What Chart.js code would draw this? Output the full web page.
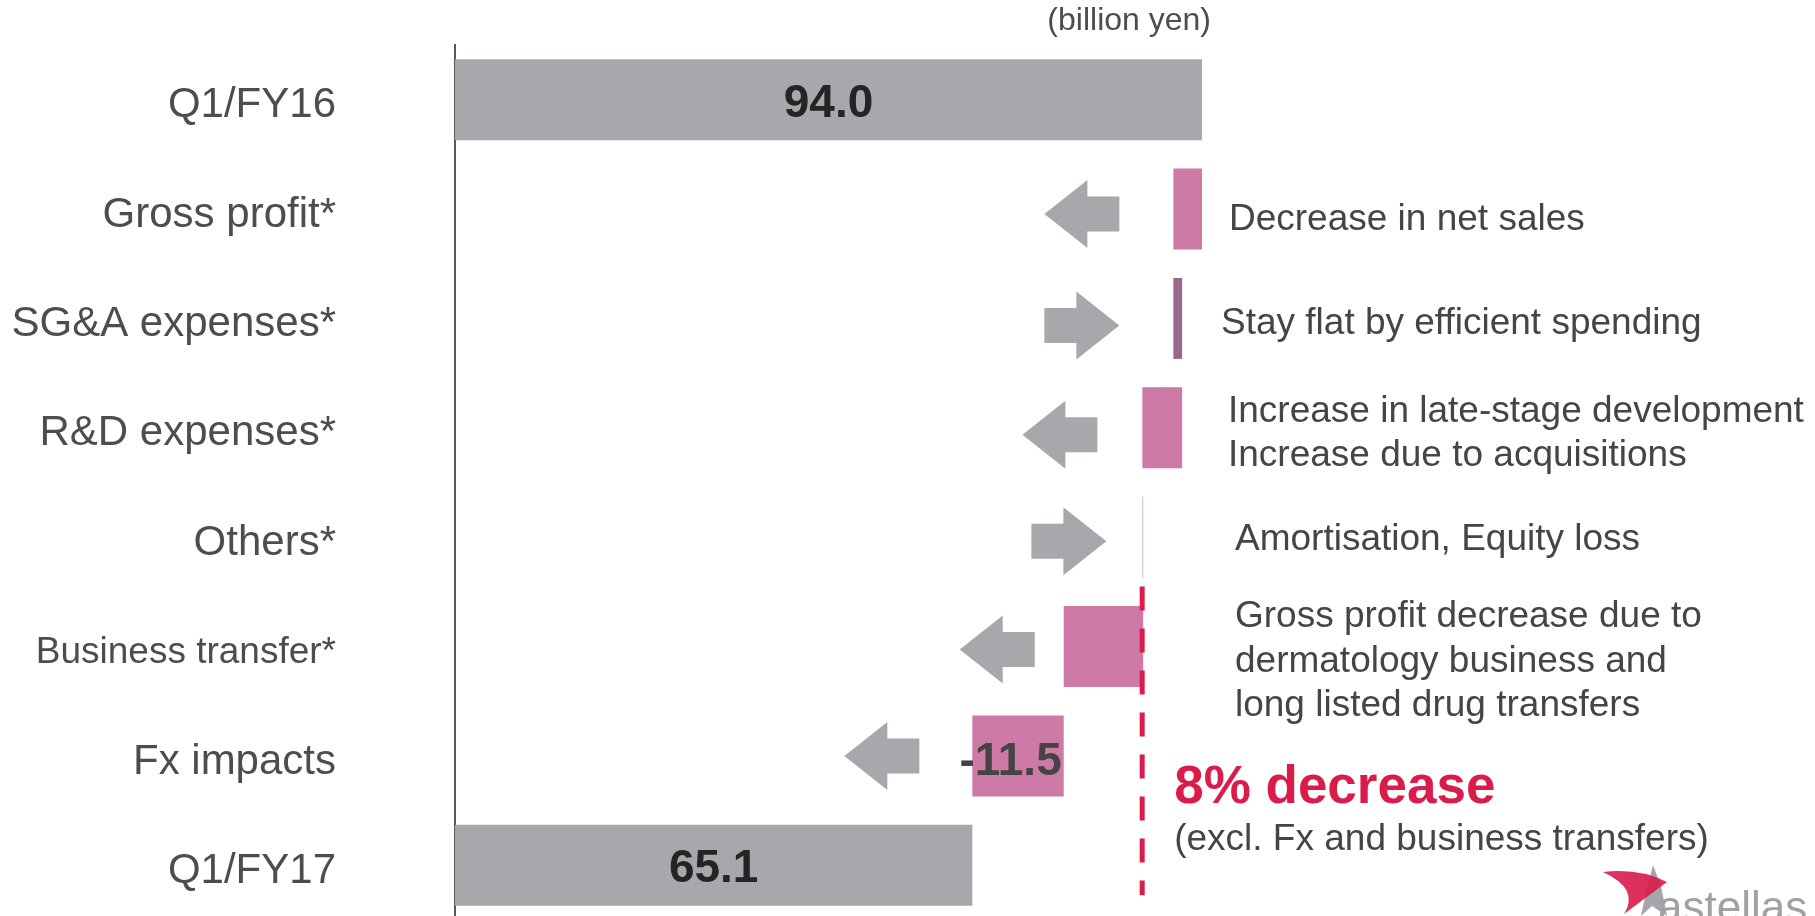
<!DOCTYPE html>
<html>
<head>
<meta charset="utf-8">
<title>Core operating profit bridge Q1/FY16 - Q1/FY17</title>
<script src="https://cdn.jsdelivr.net/npm/chart.js@4"></script>
<style>
  html, body { margin: 0; padding: 0; background: #fff; overflow: hidden; }
  canvas { display: block; }
</style>
</head>
<body>
<canvas id="bridge" width="1815" height="920"></canvas>
<script>
// ---- data (billion yen) ----
const categories = ["Q1/FY16", "Gross profit*", "SG&A expenses*", "R&D expenses*",
                    "Others*", "Business transfer*", "Fx impacts", "Q1/FY17"];
const startTotal = 94.0;
const endTotal = 65.1;
// change for each middle row, in the order of categories[1..6]
const deltas = [-3.6, 1.1, -5.0, 0.1, -10.0, -11.5];
const notes = [
    ["Decrease in net sales"],
    ["Stay flat by efficient spending"],
    ["Increase in late-stage development", "Increase due to acquisitions"],
    ["Amortisation, Equity loss"],
    ["Gross profit decrease due to", "dermatology business and", "long listed drug transfers"],
    []
];
const labelledRows = [0, 6, 7];
const unitText = "(billion yen)";
const summaryNote = "(excl. Fx and business transfers)";

// ---- look ----
const FONT = '"Liberation Sans", Arial, sans-serif';
const GREY = "#A7A8AC";
const PINK = "#CD7AA6";
const barColors = [GREY, PINK, "#98698C", PINK, "#C9A3BC", PINK, PINK, GREY];
const arrowGap = [54, 54, 45, 36, 29, 53];     // px between arrow and its bar
const arrowDy = [5, 7, 7, 4, 3, 0];
const noteNudge = [[1, 8], [-7, 3], [0, 3], [7, 0], [7, 12], [0, 0]];

// floating bars: [from, to]
const ranges = [[0, startTotal]];
let running = startTotal;
deltas.forEach(d => {
    ranges.push([running, +(running + d).toFixed(1)]);
    running = +(running + d).toFixed(1);
});
ranges.push([0, endTotal]);

// like-for-like change, leaving out business transfer and Fx rows
const beforeTransfer = ranges[5][0];
const pctDecrease = Math.round((1 - beforeTransfer / startTotal) * 100);

function labelFor(i) {
    if (i === 0) return startTotal.toFixed(1);
    if (i === categories.length - 1) return endTotal.toFixed(1);
    return deltas[i - 1].toFixed(1);
}

function drawArrow(ctx, right, cy, dir) {
    const len = 75, head = 43, hh = 34, bh = 17.5;
    const left = right - len;
    ctx.beginPath();
    if (dir < 0) {
        ctx.moveTo(left, cy);
        ctx.lineTo(left + head, cy - hh);
        ctx.lineTo(left + head, cy - bh);
        ctx.lineTo(right, cy - bh);
        ctx.lineTo(right, cy + bh);
        ctx.lineTo(left + head, cy + bh);
        ctx.lineTo(left + head, cy + hh);
    } else {
        ctx.moveTo(right, cy);
        ctx.lineTo(right - head, cy - hh);
        ctx.lineTo(right - head, cy - bh);
        ctx.lineTo(left, cy - bh);
        ctx.lineTo(left, cy + bh);
        ctx.lineTo(right - head, cy + bh);
        ctx.lineTo(right - head, cy + hh);
    }
    ctx.closePath();
    ctx.fillStyle = GREY;
    ctx.fill();
}

function drawLogo(ctx) {
    ctx.save();
    // grey spike
    ctx.fillStyle = "#A5A6AA";
    ctx.beginPath();
    ctx.moveTo(1653, 865);
    ctx.lineTo(1661, 886);
    ctx.lineTo(1667, 916);
    ctx.lineTo(1652, 906);
    ctx.lineTo(1641, 916);
    ctx.lineTo(1647, 888);
    ctx.closePath();
    ctx.fill();
    // red swoosh
    ctx.fillStyle = "rgba(216,27,74,0.9)";
    ctx.beginPath();
    ctx.moveTo(1603, 872);
    ctx.quadraticCurveTo(1640, 868, 1667, 882);
    ctx.lineTo(1624, 914);
    ctx.quadraticCurveTo(1640, 889, 1603, 872);
    ctx.closePath();
    ctx.fill();
    ctx.fillStyle = "#A0A1A5";
    ctx.font = "44px " + FONT;
    ctx.textAlign = "left";
    ctx.textBaseline = "alphabetic";
    ctx.fillText("astellas", 1658, 922);
    ctx.restore();
}

const bridgeExtras = {
    id: "bridgeExtras",
    afterDatasetsDraw(chart) {
        const ctx = chart.ctx;
        const x = chart.scales.x;
        const bars = chart.getDatasetMeta(0).data;
        ctx.save();

        // direction arrows in front of each change bar
        deltas.forEach((d, k) => {
            const bar = bars[k + 1];
            const barLeft = Math.min(bar.x, bar.base);
            drawArrow(ctx, barLeft - arrowGap[k], bar.y + arrowDy[k], d);
        });

        // dashed marker at the total before business transfer
        const dx = x.getPixelForValue(beforeTransfer) - 1;
        ctx.save();
        ctx.strokeStyle = "#DA1C4A";
        ctx.lineWidth = 5;
        ctx.setLineDash([24, 18]);
        ctx.beginPath();
        ctx.moveTo(dx, bars[5].y - 60);
        ctx.lineTo(dx, bars[7].y + 30);
        ctx.stroke();
        ctx.restore();

        // value labels
        ctx.font = "bold 46px " + FONT;
        ctx.textBaseline = "alphabetic";
        labelledRows.forEach(i => {
            const bar = bars[i];
            const text = labelFor(i);
            const w = ctx.measureText(text).width;
            const left = Math.min(bar.x, bar.base), right = Math.max(bar.x, bar.base);
            const isTotal = i === 0 || i === categories.length - 1;
            ctx.fillStyle = isTotal ? "#242424" : "#444444";
            if (w > right - left) {
                ctx.textAlign = "right";
                ctx.fillText(text, right - 2, bar.y + 19);
            } else {
                ctx.textAlign = "center";
                ctx.fillText(text, (left + right) / 2, bar.y + 17);
            }
        });

        // row notes
        const noteX = x.getPixelForValue(startTotal) + 26;
        ctx.font = "37px " + FONT;
        ctx.fillStyle = "#454545";
        ctx.textAlign = "left";
        notes.forEach((lines, k) => {
            if (!lines.length) return;
            const bar = bars[k + 1];
            const lh = 44.5;
            const first = bar.y + noteNudge[k][1] - (lines.length - 1) * lh / 2;
            lines.forEach((line, j) => {
                ctx.fillText(line, noteX + noteNudge[k][0], first + j * lh + 13);
            });
        });

        // unit
        ctx.font = "32px " + FONT;
        ctx.fillStyle = "#4D4D4D";
        ctx.textAlign = "right";
        ctx.fillText(unitText, x.getPixelForValue(startTotal) + 9, 30);

        // summary next to the marker
        ctx.textAlign = "left";
        ctx.font = "bold 53px " + FONT;
        ctx.fillStyle = "#DA1C4A";
        ctx.fillText(pctDecrease + "% decrease", dx + 32, 803);
        ctx.font = "37px " + FONT;
        ctx.fillStyle = "#454545";
        ctx.fillText(summaryNote, dx + 32, 850);

        drawLogo(ctx);
        ctx.restore();
    }
};

new Chart(document.getElementById("bridge"), {
    type: "bar",
    data: {
        labels: categories,
        datasets: [{
            data: ranges,
            backgroundColor: barColors,
            borderWidth: 0,
            barPercentage: 0.74,
            categoryPercentage: 1.0
        }]
    },
    options: {
        indexAxis: "y",
        responsive: false,
        animation: false,
        devicePixelRatio: 1,
        layout: { padding: { top: 45, right: 168, bottom: 0, left: 0 } },
        plugins: {
            legend: { display: false },
            tooltip: { enabled: false }
        },
        scales: {
            x: { display: false, min: 0, max: 150 },
            y: {
                // fixed axis width; tick padding must not eat into the plot height
                afterFit: axis => {
                    axis.width = 455;
                    axis.paddingTop = 0;
                    axis.paddingBottom = 0;
                },
                grid: { display: false },
                border: { display: true, color: "#595959", width: 2 },
                ticks: {
                    autoSkip: false,
                    padding: 111,
                    labelOffset: 6,
                    color: "#4D4D4D",
                    font: ctx => ({ family: FONT, size: ctx.index === 5 ? 37 : 42 })
                }
            }
        }
    },
    plugins: [bridgeExtras]
});
</script>
</body>
</html>
